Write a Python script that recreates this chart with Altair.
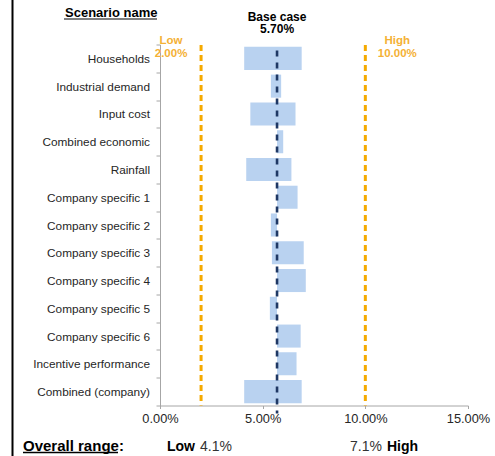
import altair as alt
import pandas as pd

categories = ["Households", "Industrial demand", "Input cost", "Combined economic", "Rainfall",
              "Company specific 1", "Company specific 2", "Company specific 3", "Company specific 4",
              "Company specific 5", "Company specific 6", "Incentive performance", "Combined (company)"]
low_vals = [4.1, 5.4, 4.4, 5.7, 4.2, 5.7, 5.4, 5.45, 5.7, 5.35, 5.7, 5.7, 4.1]
high_vals = [6.9, 5.9, 6.6, 6.0, 6.4, 6.7, 5.7, 7.0, 7.1, 5.7, 6.85, 6.65, 6.9]
base_case = 5.7
ref_names = ["Low", "High"]
ref_values = [2.0, 10.0]
x_ticks = [0, 5, 10, 15]
overall_low = "4.1%"
overall_high = "7.1%"

FONT = "Liberation Sans"
ORANGE = "#F5AA00"
NAVY = "#1F3864"
BAR = "#B9D2F0"
GRAY = "#A6A6A6"
W, H = 308, 361

bars_df = pd.DataFrame({"scenario": categories, "low": low_vals, "high": high_vals})
refs_df = pd.DataFrame({"name": ref_names, "value": ref_values,
                        "pct": [f"{v:.2f}%" for v in ref_values]})
base_df = pd.DataFrame({"value": [base_case], "pct": [f"{base_case:.2f}%"], "name": ["Base case"]})

x_scale = alt.Scale(domain=[0, 15], nice=False, zero=False)
x_axis = alt.Axis(values=x_ticks, labelExpr="format(datum.value, '.2f') + '%'", grid=False,
                  tickSize=3, domainColor=GRAY, tickColor=GRAY, labelFont=FONT, labelFontSize=12.8,
                  labelColor="#262626", labelPadding=4, title=None, labelFlush=False)
y_axis = alt.Axis(title=None, tickBand="extent", tickSize=4, tickColor=GRAY, domainColor=GRAY,
                  labelFont=FONT, labelFontSize=11.8, labelColor="#262626", labelPadding=6.5,
                  grid=False, labelLimit=200)

bars = alt.Chart(bars_df).mark_bar(color=BAR, height=alt.RelativeBandSize(0.83)).encode(
    x=alt.X("low:Q", scale=x_scale, axis=x_axis),
    x2="high:Q",
    y=alt.Y("scenario:N", sort=categories, scale=alt.Scale(paddingInner=0, paddingOuter=0), axis=y_axis),
)

ref_rules = alt.Chart(refs_df).mark_rule(color=ORANGE, strokeWidth=3, strokeDash=[6, 4]).encode(
    x=alt.X("value:Q", scale=x_scale, axis=x_axis),
    y=alt.value(0.5), y2=alt.value(H),
)

base_rule = alt.Chart(base_df).mark_rule(color=NAVY, strokeWidth=2.6, strokeDash=[6, 6]).encode(
    x=alt.X("value:Q", scale=x_scale, axis=x_axis),
    y=alt.value(6), y2=alt.value(369),
)

layers = [bars, ref_rules, base_rule]

for name, dx in [("Low", -30), ("High", 32)]:
    sub = alt.Chart(refs_df).transform_filter(alt.datum.name == name)
    for field, yy in [("name", -1), ("pct", 12.5)]:
        layers.append(sub.mark_text(font=FONT, fontSize=11.5, fontWeight="bold", color="#F4B135",
                                    align="center", baseline="alphabetic", dx=dx).encode(
            x=alt.X("value:Q", scale=x_scale, axis=x_axis), y=alt.value(yy), text=f"{field}:N"))

for field, yy in [("name", -23.8), ("pct", -11.2)]:
    layers.append(alt.Chart(base_df).mark_text(font=FONT, fontSize=12, fontWeight="bold", color="black",
                                               align="center", baseline="alphabetic").encode(
        x=alt.X("value:Q", scale=x_scale, axis=x_axis), y=alt.value(yy), text=f"{field}:N"))


def label(text, x, y, size, bold=False, color="black"):
    return alt.Chart(pd.DataFrame({"t": [text]})).mark_text(
        font=FONT, fontSize=size, fontWeight="bold" if bold else "normal", color=color,
        align="left", baseline="alphabetic").encode(x=alt.value(x), y=alt.value(y), text="t:N")


def hline(x1, x2, y, width, color="black"):
    return alt.Chart(pd.DataFrame({"a": [0]})).mark_rule(color=color, strokeWidth=width).encode(
        x=alt.value(x1), x2=alt.value(x2), y=alt.value(y))


def vline(x, y1, y2, width, color="black"):
    return alt.Chart(pd.DataFrame({"a": [0]})).mark_rule(color=color, strokeWidth=width).encode(
        x=alt.value(x), y=alt.value(y1), y2=alt.value(y2))


layers += [
    label("Scenario name", -95, -27.5, 13, bold=True),
    hline(-96, -3, -25.5, 1.2),
    label("Overall range:", -137, 406, 15, bold=True),
    hline(-137, -42, 408, 1.4),
    label("Low", 7, 406, 14, bold=True),
    label(overall_low, 40, 406, 14, color="#333333"),
    label(overall_high, 190, 406, 14, color="#333333"),
    label("High", 227, 406, 14, bold=True),
    vline(-147.5, -44.5, 411.5, 2),
]

chart = alt.layer(*layers).properties(
    width=W, height=H,
    autosize=alt.AutoSizeParams(type="none"),
    padding={"left": 160, "top": 44.5, "right": 27, "bottom": 50.5},
).configure_view(stroke=None)

chart.save("out.html", embed_options={"renderer": "svg", "actions": False})
